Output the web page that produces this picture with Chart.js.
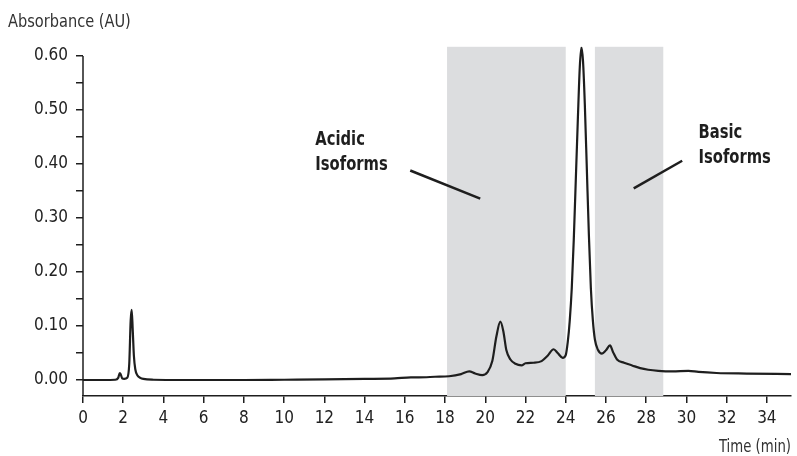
<!DOCTYPE html>
<html>
<head>
<meta charset="utf-8">
<script src="https://cdn.jsdelivr.net/npm/chart.js@4.4.1/dist/chart.umd.min.js"></script>
<style>
  html, body { margin: 0; padding: 0; background: #fff; }
  #wrap { width: 797px; height: 456px; position: relative; }
</style>
</head>
<body>
<div id="wrap"><canvas id="chromChart"></canvas></div>
<script>
// Chromatogram trace (time in min, absorbance in AU)
const times = [0, 1.0, 1.6, 1.75, 1.83, 1.88, 1.95, 2.05, 2.2, 2.3, 2.37, 2.42, 2.47, 2.53, 2.6, 2.7, 2.85, 3.0, 3.5,
  5, 8, 10, 12, 14, 15.5, 16.3, 16.7, 17.5, 18.2, 18.8, 19.2, 19.5, 19.85, 20.1, 20.35, 20.55, 20.75, 20.9, 21.05,
  21.25, 21.5, 21.8, 22.0, 22.4, 22.8, 23.1, 23.4, 23.6, 23.85, 24.0, 24.1, 24.2, 24.3, 24.4, 24.5, 24.6, 24.7,
  24.78, 24.86, 24.95, 25.05, 25.15, 25.25, 25.35, 25.45, 25.6, 25.8, 26.0, 26.2, 26.35, 26.55, 26.9, 27.3, 27.7,
  28.1, 28.6, 29.3, 30.1, 30.6, 31.5, 33, 35.2];
const absorbance = [0, 0, 0.0005, 0.004, 0.013, 0.01, 0.003, 0.002, 0.004, 0.03, 0.11, 0.13, 0.095, 0.045, 0.02, 0.009, 0.004, 0.002, 0.0005,
  0, 0, 0.0005, 0.001, 0.002, 0.003, 0.005, 0.005, 0.006, 0.007, 0.011, 0.016, 0.012, 0.009, 0.014, 0.035, 0.08, 0.108, 0.09, 0.055,
  0.038, 0.030, 0.027, 0.031, 0.032, 0.035, 0.045, 0.057, 0.05, 0.041, 0.046, 0.07, 0.11, 0.17, 0.26, 0.37, 0.48, 0.58,
  0.616, 0.59, 0.51, 0.39, 0.27, 0.17, 0.11, 0.075, 0.056, 0.049, 0.055, 0.064, 0.052, 0.038, 0.032, 0.027, 0.022,
  0.019, 0.017, 0.016, 0.017, 0.015, 0.013, 0.012, 0.011];

// axis ticks
const xTicks = [0, 2, 4, 6, 8, 10, 12, 14, 16, 18, 20, 22, 24, 26, 28, 30, 32, 34];
const yTicks = [0, 0.05, 0.1, 0.15, 0.2, 0.25, 0.3, 0.35, 0.4, 0.45, 0.5, 0.55, 0.6];

// shaded fraction windows [start, end] in min
const regionStarts = [18.1, 25.45];
const regionEnds = [24.0, 28.85];

// annotation labels and leader lines (data units)
const noteLines = [['Acidic', 'Isoforms'], ['Basic', 'Isoforms']];
const noteX = [11.55, 30.6];
const noteY = [0.445, 0.458];
const leaderFrom = [[16.27, 0.388], [27.38, 0.355]];
const leaderTo = [[19.75, 0.336], [29.79, 0.406]];

const FONT = "'DejaVu Sans Condensed', 'Roboto', sans-serif";
const INK = '#1e1e1e';

// draw text squeezed horizontally (the original uses a condensed face)
function squeezed(ctx, text, px, py, sx) {
  ctx.save();
  ctx.translate(px, py);
  ctx.scale(sx, 1);
  ctx.fillText(text, 0, 0);
  ctx.restore();
}

const extras = {
  id: 'extras',
  beforeDatasetsDraw(chart) {
    const { ctx, chartArea, scales: { x } } = chart;
    ctx.save();
    ctx.fillStyle = '#dcdddf';
    regionStarts.forEach((s, i) => {
      const x0 = x.getPixelForValue(s), x1 = x.getPixelForValue(regionEnds[i]);
      ctx.fillRect(x0, chartArea.top, x1 - x0, chartArea.bottom - chartArea.top);
    });
    ctx.restore();
  },
  afterDraw(chart) {
    const { ctx, chartArea, scales: { x, y } } = chart;
    ctx.save();
    // y axis line, from 0.60 down to x axis
    ctx.strokeStyle = INK;
    ctx.lineWidth = 1.5;
    ctx.beginPath();
    ctx.moveTo(chartArea.left, y.getPixelForValue(0.6));
    ctx.lineTo(chartArea.left, chartArea.bottom);
    ctx.stroke();

    // leader lines
    ctx.lineWidth = 2.5;
    leaderFrom.forEach((p, i) => {
      ctx.beginPath();
      ctx.moveTo(x.getPixelForValue(p[0]), y.getPixelForValue(p[1]));
      ctx.lineTo(x.getPixelForValue(leaderTo[i][0]), y.getPixelForValue(leaderTo[i][1]));
      ctx.stroke();
    });

    // annotation text
    ctx.fillStyle = INK;
    ctx.font = 'bold 20px ' + FONT;
    ctx.textAlign = 'left';
    ctx.textBaseline = 'middle';
    noteLines.forEach((lines, i) => {
      lines.forEach((t, j) => {
        squeezed(ctx, t, x.getPixelForValue(noteX[i]), y.getPixelForValue(noteY[i]) + j * 25, 0.82);
      });
    });

    // axis titles
    ctx.fillStyle = '#333';
    ctx.font = '18px ' + FONT;
    ctx.textAlign = 'left';
    squeezed(ctx, 'Absorbance (AU)', 8, 22, 0.9);
    ctx.textAlign = 'right';
    squeezed(ctx, 'Time (min)', 791, 447, 0.82);
    ctx.restore();
  }
};

const ctx = document.getElementById('chromChart').getContext('2d');
const chromChart = new Chart(ctx, {
  type: 'line',
  data: {
    datasets: [{
      data: times.map((t, i) => ({ x: t, y: absorbance[i] })),
      borderColor: INK,
      borderWidth: 2.2,
      pointRadius: 0,
      fill: false,
      cubicInterpolationMode: 'monotone'
    }]
  },
  options: {
    responsive: true,
    maintainAspectRatio: false,
    animation: false,
    layout: { padding: { left: 0, right: 6, top: 46.8, bottom: 0 } },
    plugins: { legend: { display: false }, tooltip: { enabled: false } },
    scales: {
      x: {
        type: 'linear',
        min: 0,
        max: 35.2,
        afterBuildTicks: (scale) => { scale.ticks = xTicks.map(v => ({ value: v })); },
        afterFit: (scale) => { scale.height = 60; },
        grid: { drawOnChartArea: false, drawTicks: true, tickLength: 7, tickColor: INK, lineWidth: 1.5 },
        border: { display: true, color: INK, width: 1.5 },
        ticks: { color: '#222', font: { family: FONT, size: 17 }, padding: 5, maxRotation: 0, autoSkip: false }
      },
      y: {
        type: 'linear',
        min: -0.0296,
        max: 0.617,
        afterBuildTicks: (scale) => { scale.ticks = yTicks.map(v => ({ value: v })); },
        afterFit: (scale) => { scale.width = 83; },
        grid: { drawOnChartArea: false, drawTicks: true, tickLength: 7, tickColor: INK, lineWidth: 1.5 },
        border: { display: false },
        ticks: {
          color: '#222',
          font: { family: FONT, size: 17 },
          padding: 8,
          autoSkip: false,
          callback: (v) => (Math.round(v * 100) % 10 === 0 ? v.toFixed(2) : '')
        }
      }
    }
  },
  plugins: [extras]
});
</script>
</body>
</html>
